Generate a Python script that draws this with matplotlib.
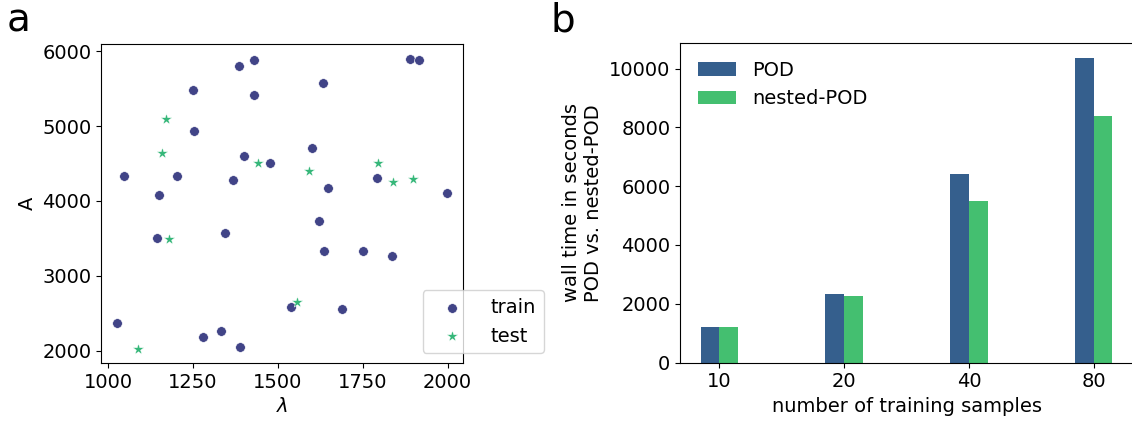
import numpy as np
import matplotlib.pyplot as plt

# --- dados do painel a: amostras de parametros (lambda, A) ---
train_lam = [1047, 1027, 1148, 1143, 1202, 1250, 1253, 1280, 1332, 1343,
             1367, 1385, 1389, 1400, 1428, 1429, 1478, 1539, 1601, 1620,
             1634, 1637, 1648, 1688, 1752, 1793, 1837, 1890, 1917, 1997]
train_A = [4338, 2367, 4074, 3510, 4329, 5480, 4934, 2188, 2260, 3577,
           4285, 5803, 2050, 4594, 5413, 5879, 4513, 2582, 4701, 3729,
           5570, 3326, 4177, 2556, 3326, 4311, 3259, 5901, 5875, 4105]
test_lam = [1088, 1158, 1169, 1179, 1441, 1555, 1593, 1794, 1840, 1899]
test_A = [2031, 4638, 5100, 3492, 4513, 2645, 4405, 4504, 4253, 4298]

# --- dados do painel b: tempo de parede ---
n_samples = ['10', '20', '40', '80']
t_pod = [1202, 2324, 6406, 10351]
t_nested = [1200, 2256, 5488, 8379]

c_train = '#414487'
c_test = '#35b779'
c_pod = '#355f8d'
c_nested = '#44bf70'

plt.rcParams['font.size'] = 14

W, H = 1132, 425
fig = plt.figure(figsize=(W / 100, H / 100), dpi=100)

# painel a
ax1 = fig.add_axes([101 / W, (H - 363) / H, 362 / W, 319 / H])
ax1.scatter(train_lam, train_A, s=48, color=c_train, edgecolor='w',
            linewidth=0.4, label='train')
ax1.scatter(test_lam, test_A, s=70, marker='*', color=c_test,
            edgecolor='w', linewidth=0.3, label='test')
ax1.set_xticks([1000, 1250, 1500, 1750, 2000])
ax1.set_yticks([2000, 3000, 4000, 5000, 6000])
ax1.set_xlabel(r'$\lambda$')
ax1.set_ylabel('A')
ax1.legend(loc='lower right', bbox_to_anchor=(1.25, 0), handlelength=2.2,
           handletextpad=0.9)

# painel b
ax2 = fig.add_axes([680 / W, (H - 362.5) / H, 453 / W, 319.5 / H])
idx = np.arange(len(n_samples))
w = 0.15
ax2.bar(idx - w / 2, t_pod, w, color=c_pod, label='POD')
ax2.bar(idx + w / 2, t_nested, w, color=c_nested, label='nested-POD')
ax2.set_xticks(idx)
ax2.set_xticklabels(n_samples)
ax2.set_xlabel('number of training samples')
ax2.set_ylabel('wall time in seconds\nPOD vs. nested-POD')
ax2.legend(loc='upper left', frameon=False)

fig.text(7 / W, 1 - 31.7 / H, 'a', fontsize=28, va='baseline')
fig.text(550 / W, 1 - 31.7 / H, 'b', fontsize=28, va='baseline')

fig.savefig('out.png', dpi=100)
